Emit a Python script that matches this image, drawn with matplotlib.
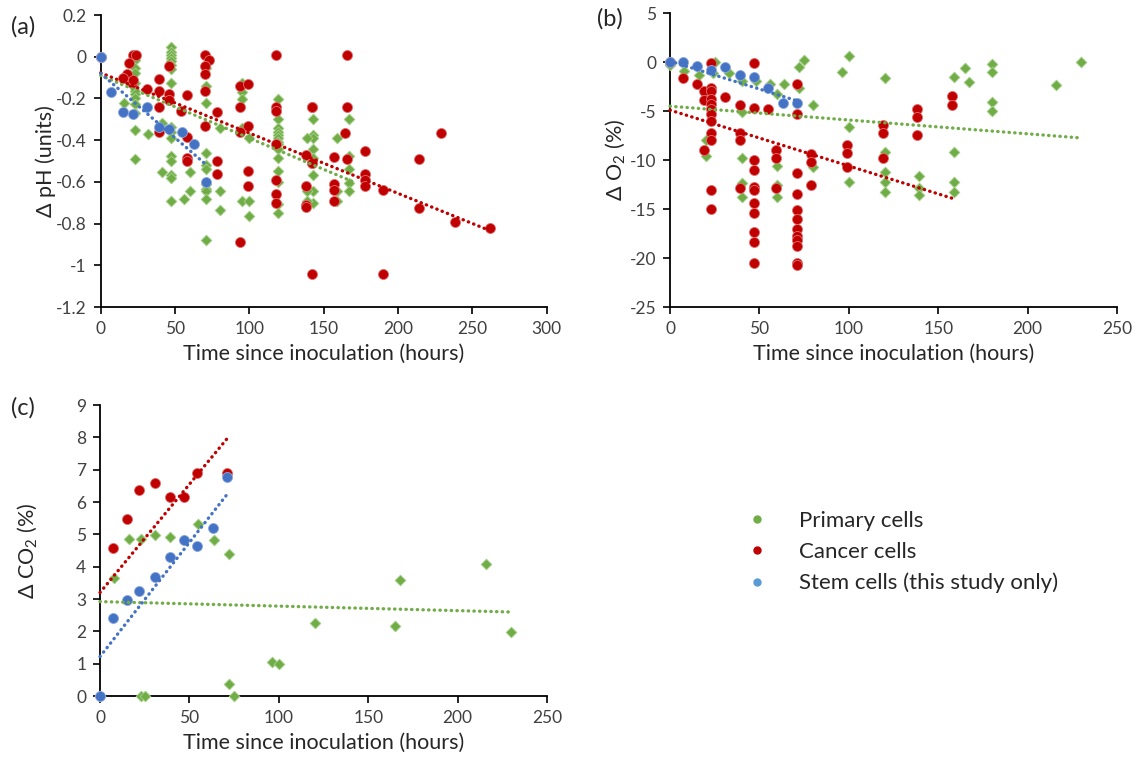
import matplotlib
matplotlib.use("Agg")
import matplotlib.pyplot as plt
from matplotlib.lines import Line2D
import numpy as np

plt.rcParams['font.family'] = ['Lato', 'DejaVu Sans']
plt.rcParams['mathtext.fontset'] = 'custom'
plt.rcParams['mathtext.rm'] = 'Lato'
plt.rcParams['axes.unicode_minus'] = False

GREEN = '#70AD47'
RED = '#C00000'
BLUE = '#4472C4'
TXT = '#404040'

# ---- (a) delta pH ----
ph_primary_x = [0, 23, 23, 23, 23, 23, 23, 23, 23, 23, 23, 23, 16, 32,
                47, 47, 47, 47, 47, 47, 47, 47, 47, 47, 47, 47, 47, 47, 47, 47,
                41, 41, 56, 60, 60,
                71, 71, 71, 71, 71, 71, 71, 71, 71, 71, 71,
                80, 80, 80, 95, 95, 95, 95, 95, 100, 100, 100,
                119, 119, 119, 119, 119, 119, 119, 119, 119, 119, 119, 119, 119, 119,
                143, 143, 143, 143, 143, 143, 143, 143, 139, 139, 139,
                167, 167, 167, 167, 167, 159, 159, 159]
ph_primary_y = [0, -0.014, -0.053, -0.077, -0.124, -0.164, -0.18, -0.20, -0.226, -0.27, -0.35, -0.49, -0.22, -0.37,
                0.049, 0.025, 0.009, -0.006, -0.022, -0.038, -0.061, -0.124, -0.336, -0.36, -0.39, -0.478, -0.50, -0.565, -0.58, -0.69,
                -0.32, -0.552, -0.68, -0.552, -0.646,
                -0.053, -0.14, -0.223, -0.46, -0.517, -0.54, -0.61, -0.635, -0.643, -0.68, -0.88,
                -0.341, -0.646, -0.737, -0.124, -0.171, -0.203, -0.344, -0.69, -0.39, -0.69, -0.764,
                -0.203, -0.297, -0.344, -0.36, -0.376, -0.39, -0.407, -0.42, -0.44, -0.486, -0.55, -0.6, -0.706, -0.749,
                -0.30, -0.376, -0.44, -0.486, -0.565, -0.646, -0.70, -0.39, -0.39, -0.646, -0.69,
                -0.30, -0.478, -0.536, -0.604, -0.643, -0.39, -0.646, -0.69]

ph_cancer_x = [0, 22, 24, 19, 18, 15, 21, 22, 39, 39, 39, 31, 46, 46, 46, 58, 54, 58, 58, 58, 39,
               70, 73, 70, 70, 70, 70, 78, 78, 78, 94, 99, 94, 99, 94, 99, 99, 94,
               118, 118, 118, 118, 118, 118, 118, 142, 138, 142, 138, 138, 138, 142,
               166, 164, 166, 178, 157, 166, 178, 178, 178, 190, 229, 214, 214, 238, 262,
               157, 157, 157, 142, 190, 142]
ph_cancer_y = [0, 0.006, 0.006, -0.03, -0.085, -0.10, -0.124, -0.11, -0.105, -0.164, -0.242, -0.156, -0.046, -0.18, -0.205,
               -0.184, -0.258, -0.387, -0.486, -0.50, -0.36,
               0.006, -0.017, -0.046, -0.085, -0.164, -0.33, -0.263, -0.50, -0.56, -0.14, -0.129, -0.242, -0.33, -0.36, -0.55, -0.62, -0.89,
               0.006, -0.24, -0.26, -0.42, -0.59, -0.66, -0.70, -0.24, -0.47, -0.51, -0.62, -0.71, -0.72, -1.04,
               0.006, -0.365, -0.24, -0.45, -0.48, -0.49, -0.56, -0.59, -0.62, -0.64, -0.365, -0.49, -0.725, -0.79, -0.82,
               -0.61, -0.64, -0.69, -0.24, -1.04, -0.51]

ph_stem_x = [0, 7, 15, 22, 31, 39, 46, 55, 63, 71]
ph_stem_y = [0.0, -0.17, -0.263, -0.274, -0.242, -0.336, -0.347, -0.36, -0.42, -0.6]

# ---- (b) delta O2 ----
o2_primary_x = [0, 8, 16, 25, 24, 33, 20, 20, 40, 40, 40, 40, 40, 48, 56, 60, 60, 60, 60, 64, 72, 72, 75,
                80, 80, 96, 100, 100, 100, 120, 120, 120, 120, 120, 139, 139, 139,
                159, 159, 159, 159, 165, 167, 180, 180, 180, 180, 216, 230]
o2_primary_y = [-0.3, -0.95, -1.3, 0.0, -1.16, -1.16, -7.9, -9.6, -1.9, -5.1, -9.8, -12.3, -13.8, -1.9, -2.2,
                -3.3, -10.6, -12.5, -13.8, -2.2, -0.55, -2.6, 0.2,
                -4.4, -10.7, -1.06, 0.58, -6.6, -12.2, -1.67, -9.2, -11.2, -12.2, -13.3, -11.6, -12.9, -13.6,
                -1.5, -9.2, -12.2, -13.3, -0.6, -2.0, -0.2, -1.0, -4.1, -5.0, -2.36, 0.0]

o2_cancer_x = [0, 7, 15, 19, 19, 23, 23, 23, 23, 23, 23, 23, 23, 23, 23, 19, 23, 23,
               31, 39, 39, 39, 39, 47, 47, 47, 47, 47, 47, 47, 47, 47, 47, 47,
               55, 59, 59, 59, 71, 71, 71, 71, 71, 71, 71, 71, 71, 71, 71, 71,
               79, 79, 79, 99, 99, 99, 119, 119, 119, 138, 138, 138, 158, 158]
o2_cancer_y = [0, -1.64, -2.19, -2.94, -3.9, -0.1, -2.6, -2.94, -3.8, -4.3, -4.8, -5.3, -6.0, -7.2, -7.9, -9.0, -13.1, -15.0,
               -3.6, -4.4, -7.2, -7.9, -12.9, -0.1, -4.65, -9.96, -11.05, -12.7, -13.1, -14.4, -15.4, -17.3, -18.4, -20.5,
               -4.75, -9.0, -9.8, -12.9, -2.26, -5.3, -11.3, -13.5, -15.1, -16.0, -17.0, -17.7, -18.2, -18.8, -20.5, -20.7,
               -9.4, -10.2, -12.5, -8.5, -9.3, -10.7, -6.4, -7.2, -9.8, -4.8, -5.6, -7.4, -3.5, -4.4]

o2_stem_x = [0, 7, 15, 23, 31, 39, 47, 55, 63, 71]
o2_stem_y = [0.0, -0.03, -0.38, -0.79, -0.55, -1.3, -1.47, -2.6, -4.2, -4.14]

# ---- (c) delta CO2 ----
co2_primary_x = [0, 8, 16, 23, 31, 39, 47, 55, 64, 72, 72, 75, 23, 25, 96, 100, 120, 165, 168, 216, 230]
co2_primary_y = [0, 3.64, 4.86, 4.86, 4.98, 4.93, 4.81, 5.32, 4.83, 4.38, 0.36, 0, 0, 0, 1.05, 0.98, 2.27, 2.15, 3.59, 4.09, 1.99]

co2_cancer_x = [7, 15, 22, 31, 39, 47, 54, 71]
co2_cancer_y = [4.59, 5.48, 6.37, 6.58, 6.15, 6.15, 6.91, 6.91]

co2_stem_x = [0, 7, 15, 22, 31, 39, 47, 54, 63, 71]
co2_stem_y = [0, 2.42, 2.97, 3.26, 3.69, 4.31, 4.81, 4.64, 5.21, 6.76]

# trend lines: (intercept, slope, x end)
ph_trends = {'primary': (-0.09, -0.00300, 172), 'cancer': (-0.077, -0.00289, 263), 'stem': (-0.08, -0.00617, 72)}
o2_trends = {'primary': (-4.5, -0.0141, 229), 'cancer': (-4.9, -0.0570, 158), 'stem': (0.1, -0.057, 72)}
co2_trends = {'primary': (2.92, -0.0014, 230), 'cancer': (3.2, 0.067, 72), 'stem': (1.22, 0.0706, 72)}

fig = plt.figure(figsize=(11.38, 7.63), dpi=100)
ax_a = fig.add_axes([0.0885, 0.5976, 0.3919, 0.3827])
ax_b = fig.add_axes([0.5888, 0.5976, 0.3927, 0.3852])
ax_c = fig.add_axes([0.0879, 0.0878, 0.3928, 0.3814])


def draw(ax, prim, canc, stem, trends):
    ax.scatter(prim[0], prim[1], marker='D', s=30, color=GREEN, edgecolors='#A9D18E',
               linewidths=0.6, zorder=3, clip_on=False)
    ax.scatter(canc[0], canc[1], marker='o', s=52, color=RED, edgecolors='#E07070',
               linewidths=0.6, zorder=4, clip_on=False)
    ax.scatter(stem[0], stem[1], marker='o', s=52, color=BLUE, edgecolors='#8FAADC',
               linewidths=0.6, zorder=5, clip_on=False)
    for key, col in (('primary', GREEN), ('cancer', RED), ('stem', BLUE)):
        b0, b1, xe = trends[key]
        xs = np.array([0, xe])
        ax.plot(xs, b0 + b1 * xs, color=col, lw=2.4, ls=(0, (0.1, 1.6)),
                dash_capstyle='round', zorder=6, clip_on=False)
    for sp in ('top', 'right'):
        ax.spines[sp].set_visible(False)
    for sp in ('left', 'bottom'):
        ax.spines[sp].set_linewidth(1.3)
    ax.tick_params(direction='out', length=5, width=1.2, pad=5, labelsize=12.5, labelcolor=TXT)
    ax.set_xlabel('Time since inoculation (hours)', fontsize=15.5, color='#262626', labelpad=5)


draw(ax_a, (ph_primary_x, ph_primary_y), (ph_cancer_x, ph_cancer_y), (ph_stem_x, ph_stem_y), ph_trends)
ax_a.set_xlim(0, 300)
ax_a.set_ylim(-1.2, 0.2)
ax_a.set_xticks(np.arange(0, 301, 50))
ph_ticks = np.round(np.arange(-1.2, 0.21, 0.2), 1)
ax_a.set_yticks(ph_ticks)
ax_a.set_yticklabels([f'{v + 0.0:g}' for v in ph_ticks])
ax_a.set_ylabel('Δ pH (units)', fontsize=15.5, color='#262626')
ax_a.yaxis.set_label_coords(-0.1, 0.5)

draw(ax_b, (o2_primary_x, o2_primary_y), (o2_cancer_x, o2_cancer_y), (o2_stem_x, o2_stem_y), o2_trends)
ax_b.set_xlim(0, 250)
ax_b.set_ylim(-25, 5)
ax_b.set_xticks(np.arange(0, 251, 50))
ax_b.set_yticks(np.arange(-25, 6, 5))
ax_b.set_ylabel('Δ O$_2$ (%)', fontsize=15.5, color='#262626')
ax_b.yaxis.set_label_coords(-0.095, 0.5)

draw(ax_c, (co2_primary_x, co2_primary_y), (co2_cancer_x, co2_cancer_y), (co2_stem_x, co2_stem_y), co2_trends)
ax_c.set_xlim(0, 250)
ax_c.set_ylim(0, 9)
ax_c.set_xticks(np.arange(0, 251, 50))
ax_c.set_yticks(np.arange(0, 10, 1))
ax_c.set_ylabel('Δ CO$_2$ (%)', fontsize=15.5, color='#262626')
ax_c.yaxis.set_label_coords(-0.135, 0.5)

fig.text(0.01, 0.965, '(a)', fontsize=17, color='#262626', va='center')
fig.text(0.525, 0.975, '(b)', fontsize=17, color='#262626', va='center')
fig.text(0.01, 0.465, '(c)', fontsize=17, color='#262626', va='center')

handles = [Line2D([], [], ls='', marker='o', color=GREEN, markersize=5),
           Line2D([], [], ls='', marker='o', color=RED, markersize=5),
           Line2D([], [], ls='', marker='o', color='#5B9BD5', markersize=5)]
fig.legend(handles, ['Primary cells', 'Cancer cells', 'Stem cells (this study only)'],
           loc='center left', bbox_to_anchor=(0.628, 0.2765), frameon=False,
           fontsize=16, labelcolor='#262626', handletextpad=0.9, labelspacing=0.5)

fig.savefig('out.png', dpi=100)
